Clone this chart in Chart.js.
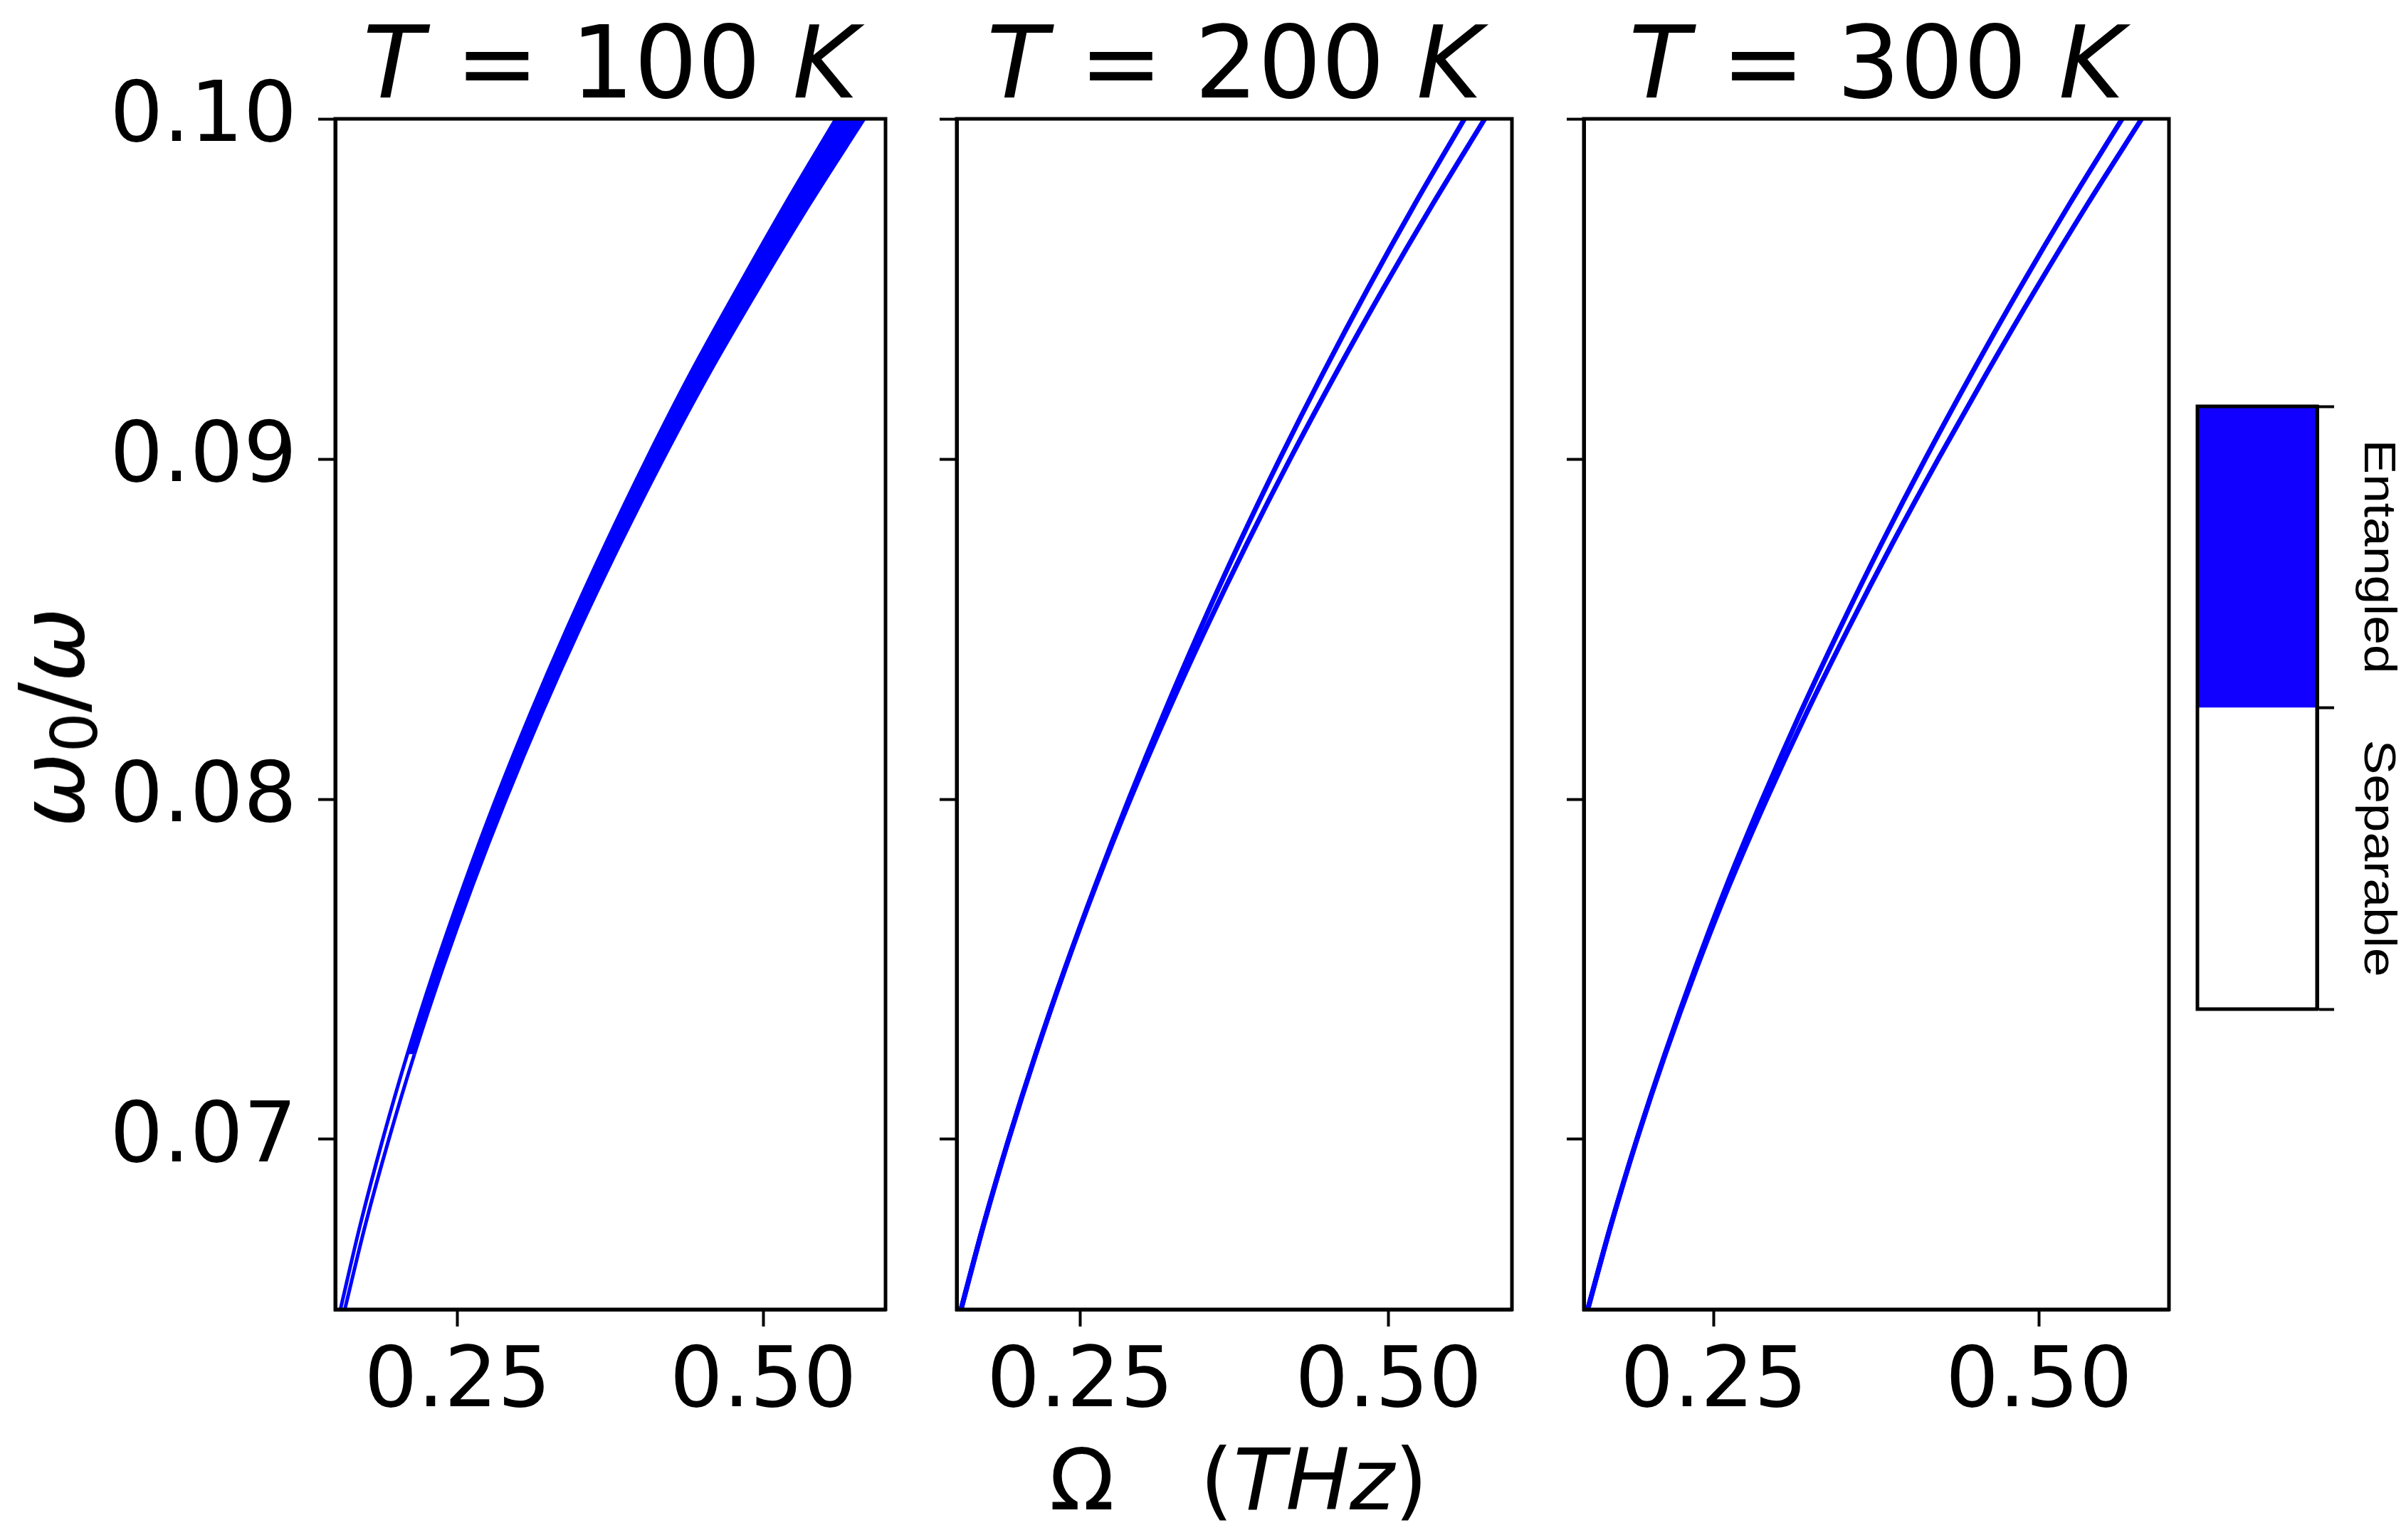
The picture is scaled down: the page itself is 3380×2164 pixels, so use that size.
<!DOCTYPE html>
<html>
<head>
<meta charset="utf-8">
<script src="https://cdn.jsdelivr.net/npm/chart.js@4.4.1/dist/chart.umd.min.js"></script>
<style>
    body { margin: 0; background: #fff; }
    #fig { position: relative; width: 3380px; height: 2164px; background: #fff; overflow: hidden; font-family: 'DejaVu Sans'; color: #000; }
    #fig canvas { position: absolute; top: 0; }
    .lbl { position: absolute; line-height: 1; white-space: nowrap; }
    .title { font-size: 140px; text-align: center; top: 19px; }
    .sub { font-size: 0.7em; position: relative; top: 0.22em; }
    .cb { font-family: 'Liberation Sans'; font-size: 63px; transform: translate(-50%, -50%) rotate(90deg) scaleX(1.16); }
</style>
</head>
<body>
<div id="fig">
    <canvas id="p100" width="1254" height="2164" style="left:0px"></canvas>
    <canvas id="p200" width="850" height="2164" style="left:1284px"></canvas>
    <canvas id="p300" width="892" height="2164" style="left:2165px"></canvas>
    <canvas id="cbar" width="320" height="2164" style="left:3060px"></canvas>
    <div class="lbl" style="font-size:126px; left:74px; top:1008px; transform: translate(-50%, -50%) rotate(-90deg);"><i>ω</i><span class="sub">0</span>/<i>ω</i></div>
    <div class="lbl" style="font-size:120px; left:1740px; top:2020px; transform: translateX(-50%);">Ω<span style="display:inline-block; width:1em"></span>(<i>THz</i>)</div>
</div>
<script>
// omega_0/omega values shared by every boundary curve
const omegaRatio = [0.065, 0.0675, 0.07, 0.0725, 0.075, 0.0775, 0.08, 0.0825, 0.085, 0.0875, 0.09, 0.0925, 0.095, 0.0975, 0.10];

// Omega (THz) of the left / right boundary of the entangled region
const t100Left  = [0.1542, 0.1705, 0.1888, 0.2089, 0.2311, 0.2553, 0.2813, 0.3093, 0.3392, 0.3710, 0.4046, 0.4402, 0.4786, 0.5181, 0.5594];
const t100Right = [0.1578, 0.1747, 0.1938, 0.2147, 0.2377, 0.2627, 0.2897, 0.3187, 0.3498, 0.3830, 0.4182, 0.4556, 0.4960, 0.5381, 0.5826];
const t200Left  = [0.1535, 0.1719, 0.1921, 0.2140, 0.2376, 0.2628, 0.2895, 0.3177, 0.3474, 0.3787, 0.4118, 0.4466, 0.4831, 0.5214, 0.5615];
const t200Right = [0.1535, 0.1719, 0.1921, 0.2140, 0.2376, 0.2632, 0.2907, 0.3203, 0.3518, 0.3851, 0.4202, 0.4571, 0.4956, 0.5359, 0.5780];
const t300Left  = [0.1530, 0.1710, 0.1908, 0.2123, 0.2354, 0.2602, 0.2873, 0.3161, 0.3467, 0.3788, 0.4126, 0.4481, 0.4850, 0.5236, 0.5640];
const t300Right = [0.1530, 0.1710, 0.1908, 0.2126, 0.2364, 0.2622, 0.2906, 0.3209, 0.3532, 0.3871, 0.4226, 0.4595, 0.4977, 0.5375, 0.5790];

const temperatures = [100, 200, 300];
const omegaTicks = [0.25, 0.50];
const ratioTicks = [0.07, 0.08, 0.09, 0.10];

const phaseNames = ['Separable', 'Entangled'];
const phaseSpan = [1, 1];
const phaseColors = ['#ffffff', '#1100ff'];

const BLUE = '#0000ff';
const PLOT_TOP = 167;
const PLOT_BOTTOM = 1840;
const SOLID_FROM = 0.0725;   // below this the T=100 K band shows as two thin lines

Chart.defaults.font.family = 'DejaVu Sans';
Chart.defaults.color = '#000';

const frame = {
    id: 'frame',
    afterDatasetsDraw(chart) {
        const { ctx, chartArea: a } = chart;
        ctx.save();
        ctx.strokeStyle = '#000';
        ctx.lineWidth = 5;
        ctx.strokeRect(a.left, a.top, a.right - a.left, a.bottom - a.top);
        ctx.restore();
    }
};

function pts(xs) {
    return xs.map((x, i) => ({ x: x, y: omegaRatio[i] }));
}

function curve(xs, width, fill) {
    const ds = {
        data: pts(xs),
        borderColor: BLUE,
        backgroundColor: BLUE,
        borderWidth: width,
        fill: fill || false,
        clip: 0
    };
    if (fill) {
        ds.segment = {
            backgroundColor: c => c.p1.parsed.y <= SOLID_FROM ? 'rgba(0,0,0,0)' : undefined
        };
    }
    return ds;
}

function makePanel(id, axisWidth, showLabels, datasets) {
    return new Chart(document.getElementById(id), {
        type: 'line',
        data: { datasets: datasets },
        options: {
            responsive: false,
            animation: false,
            devicePixelRatio: 1,
            indexAxis: 'y',
            layout: { padding: { top: PLOT_TOP, right: 10, bottom: 0, left: 0 } },
            plugins: { legend: { display: false }, tooltip: { enabled: false } },
            elements: { point: { radius: 0 }, line: { cubicInterpolationMode: 'monotone' } },
            scales: {
                x: {
                    type: 'linear',
                    min: 0.15,
                    max: 0.60,
                    afterBuildTicks: s => { s.ticks = omegaTicks.map(v => ({ value: v })); },
                    afterFit: s => { s.height = 2164 - PLOT_BOTTOM; },
                    grid: { drawOnChartArea: false, tickLength: 24, tickWidth: 4, tickColor: '#000', color: '#000' },
                    border: { color: '#000', width: 5 },
                    ticks: { padding: 11, maxRotation: 0, font: { size: 118 }, callback: v => v.toFixed(2) }
                },
                y: {
                    type: 'linear',
                    min: 0.065,
                    max: 0.10,
                    afterBuildTicks: s => { s.ticks = ratioTicks.map(v => ({ value: v })); },
                    afterFit: s => { s.width = axisWidth; },
                    grid: { drawOnChartArea: false, tickLength: 24, tickWidth: 4, tickColor: '#000', color: '#000' },
                    border: { color: '#000', width: 5 },
                    ticks: { padding: 30, font: { size: 118 }, callback: v => showLabels ? v.toFixed(2) : '' }
                }
            }
        },
        plugins: [frame]
    });
}

makePanel('p100', 471, true, [curve(t100Left, 5), curve(t100Right, 5, '-1')]);
makePanel('p200', 60, false, [curve(t200Left, 7), curve(t200Right, 7)]);
makePanel('p300', 60, false, [curve(t300Left, 7), curve(t300Right, 7)]);

// colour bar
new Chart(document.getElementById('cbar'), {
    type: 'bar',
    data: {
        labels: [''],
        datasets: phaseNames.map((name, i) => ({
            label: name,
            data: [phaseSpan[i]],
            backgroundColor: phaseColors[i],
            borderWidth: 0,
            categoryPercentage: 1,
            barPercentage: 1
        }))
    },
    options: {
        responsive: false,
        animation: false,
        devicePixelRatio: 1,
        layout: { padding: { top: 571, bottom: 2164 - 1418, left: 27, right: 0 } },
        plugins: { legend: { display: false }, tooltip: { enabled: false } },
        scales: {
            x: { stacked: true, display: false },
            y: {
                stacked: true,
                position: 'right',
                min: 0,
                max: 2,
                afterBuildTicks: s => { s.ticks = [0, 1, 2].map(v => ({ value: v })); },
                afterFit: s => { s.width = 125; },
                grid: { drawOnChartArea: false, tickLength: 24, tickWidth: 4, tickColor: '#000', color: '#000' },
                border: { color: '#000', width: 5 },
                ticks: { callback: () => '' }
            }
        }
    },
    plugins: [frame]
});

// titles and colour bar labels
const fig = document.getElementById('fig');
const panelBox = [[471, 1244], [1344, 2124], [2225, 3047]];
temperatures.forEach((t, i) => {
    const d = document.createElement('div');
    d.className = 'lbl title';
    d.style.left = panelBox[i][0] + 'px';
    d.style.width = (panelBox[i][1] - panelBox[i][0]) + 'px';
    d.innerHTML = '<i>T</i> = ' + t + ' <i>K</i>';
    fig.appendChild(d);
});
const cbCenters = [1206, 782];
phaseNames.forEach((name, i) => {
    const d = document.createElement('div');
    d.className = 'lbl cb';
    d.style.left = '3343px';
    d.style.top = cbCenters[i] + 'px';
    d.textContent = name;
    fig.appendChild(d);
});
</script>
</body>
</html>
